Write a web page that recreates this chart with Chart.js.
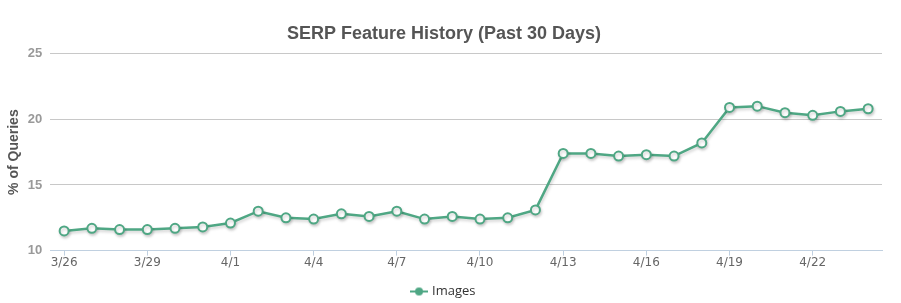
<!DOCTYPE html>
<html>
<head>
<meta charset="utf-8">
<script src="https://cdn.jsdelivr.net/npm/chart.js@4"></script>
<style>
  html, body { margin: 0; padding: 0; background: #fff; }
  #wrap { width: 901px; height: 303px; }
</style>
</head>
<body>
<div id="wrap"><canvas id="serpChart" width="901" height="303"></canvas></div>
<script>
// 데이터
const dates = ['3/26','3/27','3/28','3/29','3/30','3/31','4/1','4/2','4/3','4/4',
               '4/5','4/6','4/7','4/8','4/9','4/10','4/11','4/12','4/13','4/14',
               '4/15','4/16','4/17','4/18','4/19','4/20','4/21','4/22','4/23','4/24'];
const imagesPct = [11.5, 11.7, 11.6, 11.6, 11.7, 11.8, 12.1, 13.0, 12.5, 12.4,
                   12.8, 12.6, 13.0, 12.4, 12.6, 12.4, 12.5, 13.1, 17.4, 17.4,
                   17.2, 17.3, 17.2, 18.2, 20.9, 21.0, 20.5, 20.3, 20.6, 20.8];
const yTicks = [10, 15, 20, 25];

const lineColor = '#4fa784';

// 범례 마커 (선 + 원)
const legendMarker = document.createElement('canvas');
legendMarker.width = 18;
legendMarker.height = 10;
(function () {
    const c = legendMarker.getContext('2d');
    c.strokeStyle = lineColor;
    c.lineWidth = 2;
    c.beginPath();
    c.moveTo(0, 5);
    c.lineTo(18, 5);
    c.stroke();
    c.fillStyle = lineColor;
    c.beginPath();
    c.arc(9, 5, 4, 0, Math.PI * 2);
    c.fill();
})();

// 선 그림자
const shadowPlugin = {
    id: 'lineShadow',
    beforeDatasetDraw(chart) {
        const ctx = chart.ctx;
        ctx.save();
        ctx.shadowColor = 'rgba(0,0,0,0.18)';
        ctx.shadowOffsetX = 1;
        ctx.shadowOffsetY = 2;
        ctx.shadowBlur = 3;
    },
    afterDatasetDraw(chart) {
        chart.ctx.restore();
    }
};

new Chart(document.getElementById('serpChart').getContext('2d'), {
    type: 'line',
    data: {
        labels: dates,
        datasets: [{
            label: 'Images',
            data: imagesPct,
            borderColor: lineColor,
            backgroundColor: '#ffffff',
            borderWidth: 2.5,
            pointRadius: 4.5,
            pointBorderWidth: 2,
            pointBorderColor: lineColor,
            pointBackgroundColor: '#ffffff',
            tension: 0,
            fill: false
        }]
    },
    options: {
        responsive: false,
        animation: false,
        layout: { padding: { left: 6, right: 19, top: 0, bottom: -5 } },
        plugins: {
            title: {
                display: true,
                text: 'SERP Feature History (Past 30 Days)',
                color: '#555555',
                font: { family: '"Liberation Sans", Arial, sans-serif', size: 18, weight: 'bold' },
                padding: { top: 23, bottom: 9 }
            },
            legend: {
                position: 'bottom',
                labels: {
                    usePointStyle: true,
                    pointStyle: legendMarker,
                    color: '#333333',
                    font: { family: '"Open Sans", sans-serif', size: 13 },
                    padding: 2
                }
            },
            tooltip: { enabled: false }
        },
        scales: {
            x: {
                offset: true,
                border: { display: true, color: '#c0d0e0', width: 1 },
                grid: {
                    offset: false,
                    drawOnChartArea: false,
                    drawTicks: true,
                    tickLength: 5,
                    color: ctx => (ctx.index % 3 === 0 ? '#c0d0e0' : 'rgba(0,0,0,0)')
                },
                ticks: {
                    autoSkip: false,
                    maxRotation: 0,
                    color: '#666666',
                    font: { family: '"DejaVu Sans", sans-serif', size: 12 },
                    padding: 0,
                    callback: function (value, index) {
                        return index % 3 === 0 ? this.getLabelForValue(value) : '';
                    }
                },
                afterFit: axis => { axis.height += 13; }
            },
            y: {
                min: 10,
                max: 25,
                afterBuildTicks: axis => { axis.ticks = yTicks.map(v => ({ value: v })); },
                border: { display: false },
                grid: { color: '#c8c8c8', lineWidth: 1, drawTicks: false },
                ticks: {
                    color: '#999999',
                    font: { family: '"Liberation Sans", Arial, sans-serif', size: 13, weight: 'bold' },
                    padding: 8
                },
                title: {
                    display: true,
                    text: '% of Queries',
                    color: '#555555',
                    font: { family: '"Liberation Sans", Arial, sans-serif', size: 14, weight: 'bold' },
                    padding: { top: 0, bottom: -3 }
                }
            }
        }
    },
    plugins: [shadowPlugin]
});
</script>
</body>
</html>
